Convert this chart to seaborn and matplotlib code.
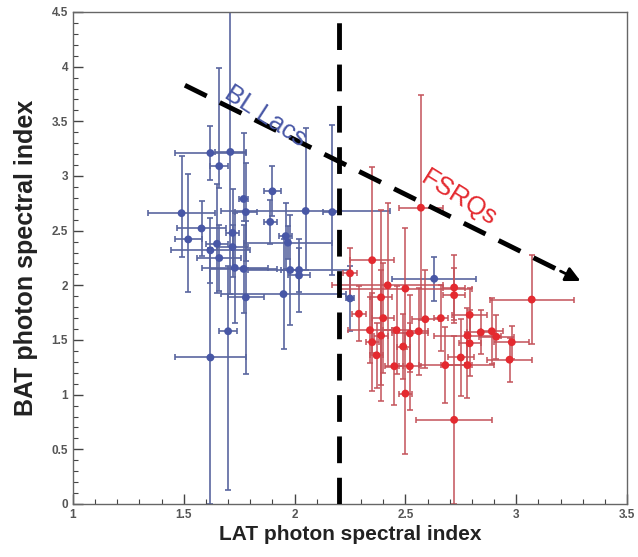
import numpy as np
import pandas as pd
import matplotlib
matplotlib.use("Agg")
import matplotlib.pyplot as plt
import seaborn as sns
from matplotlib.ticker import MultipleLocator, FuncFormatter

sns.set_theme(style="white")
plt.rcParams['font.family'] = ['Liberation Sans', 'DejaVu Sans']

# ---- BL Lacs (blue) ----
bl_x = [1.49, 1.52, 1.58, 1.62, 1.62, 1.62, 1.65, 1.66, 1.66, 1.71, 1.72, 1.72, 1.73, 1.70, 1.77,
        1.78, 1.77, 1.78, 1.90, 1.89, 1.96, 1.97, 1.98, 1.95, 2.02, 2.02, 2.05, 2.17, 2.63, 2.25]
bl_y = [2.66, 2.42, 2.52, 3.21, 2.32, 1.34, 2.38, 2.25, 3.09, 3.22, 2.48, 2.35, 2.16, 1.58, 2.79,
        2.67, 2.15, 1.89, 2.86, 2.58, 2.45, 2.39, 2.14, 1.92, 2.14, 2.09, 2.68, 2.67, 2.06, 1.88]
bl_xerr = [0.15, 0.06, 0.11, 0.16, 0.18, 0.16, 0.05, 0.10, 0.04, 0.07, 0.03, 0.07, 0.15, 0.04, 0.02,
           0.05, 0.15, 0.08, 0.04, 0.03, 0.03, 0.20, 0.04, 0.28, 0.23, 0.05, 0.38, 0.04, 0.19, 0.02]
bl_ylo = [0.40, 0.48, 0.25, 0.25, 0.30, 1.34, 0.45, 0.30, 0.20, 1.30, 0.40, 0.20, 0.50, 1.45, 0.20,
          0.45, 0.40, 0.70, 0.23, 0.20, 0.30, 0.15, 0.50, 0.50, 0.20, 0.33, 0.54, 0.58, 0.20, 0.30]
bl_yhi = [0.52, 0.60, 0.25, 0.25, 0.30, 1.00, 0.55, 0.30, 0.90, 1.40, 0.40, 0.20, 0.50, 0.60, 0.60,
          0.45, 0.40, 0.70, 0.23, 0.20, 0.30, 0.15, 0.50, 0.50, 0.20, 0.33, 0.76, 0.80, 0.20, 0.30]

# ---- FSRQs (red) ----
fs_x = [2.25, 2.35, 2.29, 2.34, 2.35, 2.37, 2.39, 2.40, 2.39, 2.42, 2.46, 2.45, 2.50, 2.49, 2.52,
        2.52, 2.50, 2.56, 2.59, 2.66, 2.72, 2.72, 2.79, 2.78, 2.79, 2.84, 2.89, 2.91, 2.98, 2.97,
        3.07, 2.75, 2.68, 2.78, 2.72, 2.57]
fs_y = [2.11, 2.23, 1.74, 1.59, 1.48, 1.36, 1.89, 1.70, 1.54, 2.00, 1.59, 1.26, 1.97, 1.44, 1.56,
        1.26, 1.01, 1.58, 1.69, 1.70, 1.98, 1.91, 1.73, 1.54, 1.47, 1.57, 1.58, 1.53, 1.48, 1.32,
        1.87, 1.34, 1.27, 1.27, 0.77, 2.71]
fs_xerr = [0.03, 0.10, 0.03, 0.10, 0.03, 0.03, 0.05, 0.05, 0.03, 0.25, 0.06, 0.04, 0.30, 0.03, 0.08,
           0.05, 0.03, 0.04, 0.06, 0.03, 0.05, 0.05, 0.08, 0.15, 0.05, 0.06, 0.05, 0.08, 0.08, 0.10,
           0.19, 0.06, 0.12, 0.12, 0.17, 0.10]
fs_yerr = [0.23, 0.85, 0.25, 0.30, 0.45, 0.30, 0.80, 0.50, 0.60, 0.75, 0.40, 0.35, 0.55, 0.30, 0.35,
           0.40, 0.55, 0.40, 0.45, 0.30, 0.30, 0.25, 0.25, 0.25, 0.30, 0.20, 0.30, 0.20, 0.15, 0.20,
           0.41, 0.35, 0.35, 0.30, 0.77, 1.03]

x_ticks = [1, 1.5, 2, 2.5, 3, 3.5]
y_ticks = [0, 0.5, 1, 1.5, 2, 2.5, 3, 3.5, 4, 4.5]

BLUE = '#4857a6'
RED = '#e42a30'

df = pd.DataFrame({
    'lat': bl_x + fs_x,
    'bat': bl_y + fs_y,
    'cls': ['BL Lacs'] * len(bl_x) + ['FSRQs'] * len(fs_x),
})

fig = plt.figure(figsize=(6.38, 5.57), dpi=100)
ax = fig.add_axes([73 / 638, 1 - 504 / 557, (627 - 73) / 638, (504 - 12) / 557])

ax.errorbar(bl_x, bl_y, xerr=bl_xerr, yerr=[bl_ylo, bl_yhi], fmt='none',
            ecolor='#5a669f', elinewidth=1.2, capsize=2.5, capthick=1.2, zorder=2)
ax.errorbar(fs_x, fs_y, xerr=fs_xerr, yerr=fs_yerr, fmt='none',
            ecolor='#c4525a', elinewidth=1.1, capsize=2.5, capthick=1.1, zorder=2)

sns.scatterplot(data=df, x='lat', y='bat', hue='cls',
                palette={'BL Lacs': BLUE, 'FSRQs': RED},
                s=32, edgecolor='none', legend=False, ax=ax, zorder=3)

# vertical dividing line
ax.axvline(2.2, color='black', lw=3.5, dashes=(5.5, 3), zorder=4)

# dashed arrow
ax.plot([1.505, 3.24], [3.83, 2.09], color='black', lw=3.5, dashes=(5, 3), zorder=4)
ax.annotate('', xy=(3.29, 2.04), xytext=(3.20, 2.13),
            arrowprops=dict(arrowstyle='-|>', color='black', lw=2, mutation_scale=22,
                            shrinkA=0, shrinkB=0), zorder=5)

ax.text(1.87, 3.55, 'BL Lacs', color=BLUE, fontsize=18.5, rotation=-33,
        ha='center', va='center', zorder=5)
ax.text(2.74, 2.80, 'FSRQs', color=RED, fontsize=18.5, rotation=-32,
        ha='center', va='center', zorder=5)

ax.set_xlim(1, 3.5)
ax.set_ylim(0, 4.5)
ax.set_xticks(x_ticks)
ax.set_yticks(y_ticks)
fmt = FuncFormatter(lambda v, p: f'{v:g}')
ax.xaxis.set_major_formatter(fmt)
ax.yaxis.set_major_formatter(fmt)
ax.xaxis.set_minor_locator(MultipleLocator(0.1))
ax.yaxis.set_minor_locator(MultipleLocator(0.1))
ax.tick_params(which='both', direction='in', top=False, right=False,
               left=True, bottom=True, colors='#444444', labelsize=8.5)
ax.tick_params(which='major', length=7, width=1)
ax.tick_params(which='minor', length=3.5, width=0.8)
for lab in ax.get_xticklabels() + ax.get_yticklabels():
    lab.set_fontweight('bold')
    lab.set_color('#555555')
for sp in ax.spines.values():
    sp.set_color('#666666')
    sp.set_linewidth(1.0)

ax.set_xlabel('LAT photon spectral index', fontsize=15, fontweight='bold', color='#222222', labelpad=3)
ax.set_ylabel('BAT photon spectral index', fontsize=18, fontweight='bold', color='#222222', labelpad=10)

fig.savefig('out.png', dpi=100)
